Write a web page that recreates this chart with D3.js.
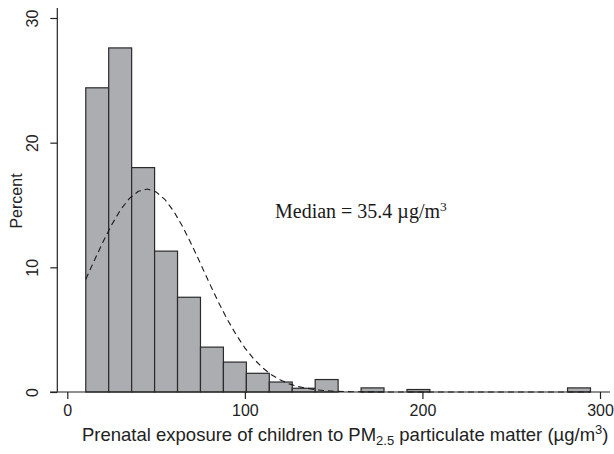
<!DOCTYPE html>
<html><head><meta charset="utf-8">
<script src="https://cdn.jsdelivr.net/npm/d3@7"></script>
<style>body{margin:0;background:#fff}svg{display:block}</style>
</head><body><svg id="c" width="614" height="454"></svg>
<script>
// Histogram: lower edge of first bin and bin width (µg/m³)
const binStart = 10.4;
const binWidth = 12.92;
// Percent of children per bin (22 bins)
const binPercents = [24.4, 27.6, 18.0, 11.3, 7.6, 3.6, 2.4, 1.5, 0.8, 0.3, 1.0, 0, 0.33, 0, 0.2, 0, 0, 0, 0, 0, 0, 0.33];
// Overlaid normal density curve
const curveX = [10.4, 15, 20, 25, 30, 35, 40, 45, 50, 55, 60, 65, 70, 75, 80, 85, 90, 95, 100, 105, 110, 115, 120, 125, 130, 140, 150, 160, 180, 220, 260, 294.6];
const curveY = [9.05, 10.48, 12.01, 13.41, 14.62, 15.53, 16.10, 16.28, 16.05, 15.44, 14.49, 13.25, 11.83, 10.30, 8.74, 7.24, 5.85, 4.61, 3.54, 2.65, 1.94, 1.38, 0.96, 0.65, 0.43, 0.18, 0.06, 0.02, 0, 0, 0, 0];
const xTicks = [0, 100, 200, 300];
const yTicks = [0, 10, 20, 30];
const medianLabel = "Median = 35.4 µg/m";

const svg = d3.select("#c");
const x = d3.scaleLinear().domain([0, 300]).range([67.3, 600]);
const y = d3.scaleLinear().domain([0, 30]).range([392, 18]);
const ink = "#222";
const sans = "'Liberation Sans', Arial, sans-serif";

// bars
const bins = binPercents.map((p, i) => ({lo: binStart + i * binWidth, hi: binStart + (i + 1) * binWidth, p}))
  .filter(d => d.p > 0);
svg.append("g").selectAll("rect").data(bins).join("rect")
  .attr("x", d => x(d.lo)).attr("width", d => x(d.hi) - x(d.lo))
  .attr("y", d => y(d.p)).attr("height", d => y(0) - y(d.p))
  .attr("fill", "#acadb1").attr("stroke", "#2a2a2a").attr("stroke-width", 1.2);

// normal curve
const line = d3.line().x((d, i) => x(curveX[i])).y(d => y(d));
svg.append("path").datum(curveY).attr("d", line)
  .attr("fill", "none").attr("stroke", "#1a1a1a").attr("stroke-width", 1.1)
  .attr("stroke-dasharray", "6,4");

// x axis
const gx = svg.append("g").attr("transform", `translate(0,${y(0)})`)
  .call(d3.axisBottom(x).tickValues(xTicks).tickSize(7).tickPadding(6).tickFormat(d3.format("d")));
gx.select(".domain").remove();
gx.append("line").attr("x1", 50).attr("x2", 610).attr("stroke", ink).attr("stroke-width", 1.2);
gx.selectAll(".tick line").attr("stroke", ink).attr("stroke-width", 1.2);
gx.selectAll(".tick text").attr("font-family", sans).attr("font-size", 16).attr("fill", ink);

// y axis
const gy = svg.append("g").attr("transform", `translate(57.3,0)`)
  .call(d3.axisLeft(y).tickValues(yTicks).tickSize(7).tickPadding(0).tickFormat(d3.format("d")));
gy.select(".domain").remove();
gy.append("line").attr("y1", 8).attr("y2", y(0)).attr("stroke", ink).attr("stroke-width", 1.2);
gy.selectAll(".tick line").attr("stroke", ink).attr("stroke-width", 1.2);
gy.selectAll(".tick text").attr("font-family", sans).attr("font-size", 16).attr("fill", ink)
  .attr("x", 0).attr("dy", 0).attr("text-anchor", "middle")
  .attr("transform", "translate(-19,0) rotate(-90)");

// axis titles
svg.append("text").attr("transform", "translate(22,201) rotate(-90)")
  .attr("text-anchor", "middle").attr("font-family", sans).attr("font-size", 16).attr("fill", ink)
  .text("Percent");

const xt = svg.append("text").attr("x", 82).attr("y", 441)
  .attr("font-family", sans).attr("font-size", 18.5).attr("fill", ink);
xt.append("tspan").text("Prenatal exposure of children to PM");
xt.append("tspan").attr("font-size", 13).attr("dy", 4).text("2.5");
xt.append("tspan").attr("dy", -4).text(" particulate matter (µg/m");
xt.append("tspan").attr("font-size", 13).attr("dy", -7).text("3");
xt.append("tspan").attr("dy", 7).text(")");

// median annotation
const mt = svg.append("text").attr("x", 275).attr("y", 218)
  .attr("font-family", "'Liberation Serif', 'Times New Roman', serif").attr("font-size", 20).attr("fill", "#1a1a1a");
mt.append("tspan").text(medianLabel);
mt.append("tspan").attr("font-size", 13.5).attr("dy", -7).text("3");
</script></body></html>
